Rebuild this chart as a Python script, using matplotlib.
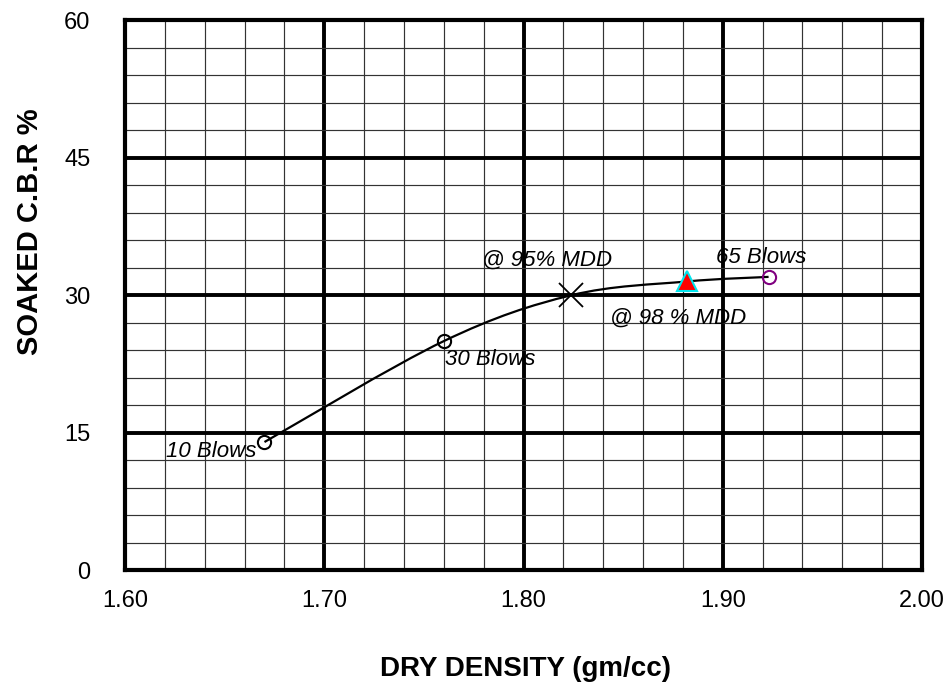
import matplotlib
matplotlib.use("Agg")
import matplotlib.pyplot as plt
from matplotlib.path import Path
from matplotlib.patches import PathPatch
from matplotlib.ticker import MultipleLocator, FormatStrFormatter

plt.rcParams["font.family"] = ["Liberation Sans", "DejaVu Sans"]

# Compaction points (dry density gm/cc, soaked CBR %)
blow_labels = ["10 Blows", "30 Blows", "65 Blows"]
blow_density = [1.670, 1.760, 1.923]
blow_cbr = [14.0, 25.0, 32.0]
mdd95_density = [1.824]
mdd95_cbr = [30.0]
mdd98_density = [1.882]
mdd98_cbr = [31.5]

x_ticks = [1.60, 1.70, 1.80, 1.90, 2.00]
y_ticks = [0, 15, 30, 45, 60]


def _smooth_path(xs, ys):
    # Excel-like smoothed line: Catmull-Rom segments drawn as cubic Beziers.
    pts = list(zip(xs, ys))
    verts = [pts[0]]
    codes = [Path.MOVETO]
    n = len(pts)
    for i in range(n - 1):
        p0 = pts[max(i - 1, 0)]
        p1 = pts[i]
        p2 = pts[i + 1]
        p3 = pts[min(i + 2, n - 1)]
        c1 = (p1[0] + (p2[0] - p0[0]) / 6.0, p1[1] + (p2[1] - p0[1]) / 6.0)
        c2 = (p2[0] - (p3[0] - p1[0]) / 6.0, p2[1] - (p3[1] - p1[1]) / 6.0)
        verts += [c1, c2, p2]
        codes += [Path.CURVE4] * 3
    return Path(verts, codes)


figure = plt.figure(figsize=(9.47, 6.85), dpi=100)
axis = figure.add_axes([0.132, 0.1672, 0.8416, 0.8036])

axis.set_xlim(x_ticks[0], x_ticks[-1])
axis.set_ylim(y_ticks[0], y_ticks[-1])
axis.set_xticks(x_ticks)
axis.set_yticks(y_ticks)
axis.xaxis.set_minor_locator(MultipleLocator(0.02))
axis.yaxis.set_minor_locator(MultipleLocator(3))
axis.xaxis.set_major_formatter(FormatStrFormatter("%.2f"))
axis.yaxis.set_major_formatter(FormatStrFormatter("%d"))
axis.grid(which="minor", color="#333333", linewidth=0.85)
axis.grid(which="major", color="black", linewidth=2.8)
axis.set_axisbelow(True)
for spine in axis.spines.values():
    spine.set_linewidth(3.0)
axis.tick_params(which="both", length=0, labelsize=17)
axis.tick_params(axis="x", pad=14)
axis.tick_params(axis="y", pad=25)

# Smoothed curve through all points, sorted by density
curve = sorted(zip(blow_density + mdd95_density + mdd98_density,
                   blow_cbr + mdd95_cbr + mdd98_cbr))
curve_x = [p[0] for p in curve]
curve_y = [p[1] for p in curve]
axis.add_patch(PathPatch(_smooth_path(curve_x, curve_y), facecolor="none",
                         edgecolor="black", linewidth=1.6, zorder=3))

axis.plot(blow_density[:2], blow_cbr[:2], linestyle="none", marker="o", ms=9.5,
          mfc="none", mec="black", mew=1.5, zorder=4)
axis.plot(blow_density[2:], blow_cbr[2:], linestyle="none", marker="o", ms=9.5,
          mfc="none", mec="#800080", mew=1.5, zorder=4)
axis.plot(mdd95_density, mdd95_cbr, linestyle="none", marker="x", ms=17,
          mec="black", mew=1.3, zorder=4)
axis.plot(mdd98_density, mdd98_cbr, linestyle="none", marker="^", ms=15,
          mfc="red", mec="#00e5ee", mew=1.5, zorder=4)

text_style = dict(textcoords="offset points", fontsize=16, style="italic", va="baseline")
axis.annotate(blow_labels[0], (blow_density[0], blow_cbr[0]), xytext=(-5.8, -11), ha="right", **text_style)
axis.annotate(blow_labels[1], (blow_density[1], blow_cbr[1]), xytext=(1, -17.5), ha="left", **text_style)
axis.annotate(blow_labels[2], (blow_density[2], blow_cbr[2]), xytext=(-37.5, 9.9), ha="left", **text_style)
axis.annotate("@ 95% MDD", (mdd95_density[0], mdd95_cbr[0]), xytext=(-64.6, 21), ha="left", **text_style)
axis.annotate("@ 98 % MDD", (mdd98_density[0], mdd98_cbr[0]), xytext=(-55.4, -30.5), ha="left", **text_style)

figure.text(525 / 947, 1 - 676 / 685, "DRY DENSITY (gm/cc)", fontsize=20, fontweight="bold",
            ha="center", va="baseline")
figure.text(30 / 947, 1 - 232 / 685, "SOAKED C.B.R %", fontsize=21, fontweight="bold",
            rotation=90, ha="center", va="center")

figure.savefig("out.png", dpi=100, facecolor="white")
